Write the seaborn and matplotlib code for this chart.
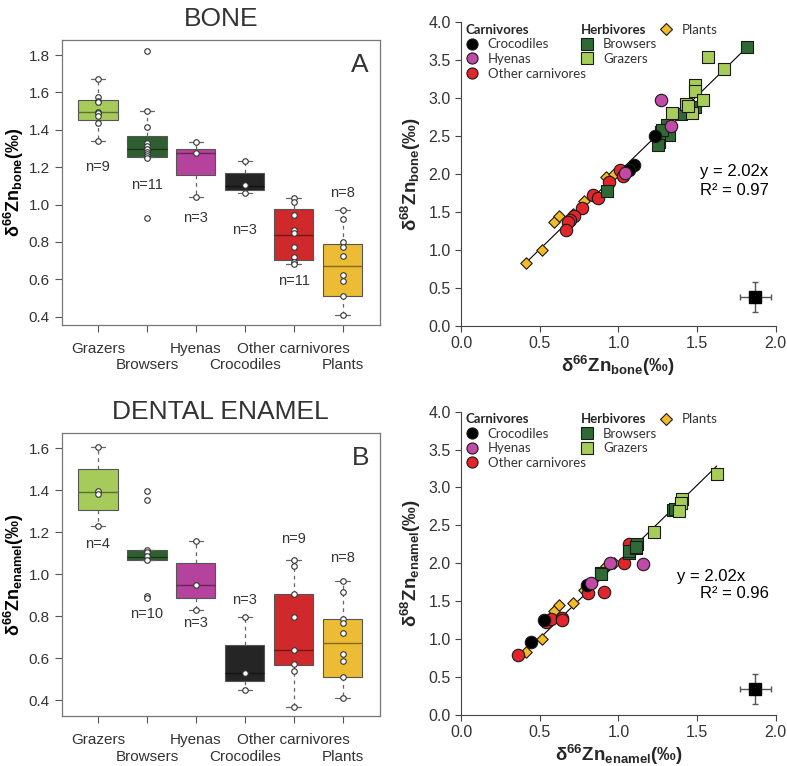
import numpy as np
import pandas as pd
import matplotlib
matplotlib.use('Agg')
import matplotlib.pyplot as plt
import seaborn as sns
from matplotlib.lines import Line2D

# ---------------- data ----------------
groups = ['Grazers', 'Browsers', 'Hyenas', 'Crocodiles', 'Other carnivores', 'Plants']
box_colors = ['#a6cb5b', '#2f5f31', '#b5429c', '#252525', '#d0292b', '#ecbd34']

# bone: box statistics
bone_q1 = [1.45, 1.256, 1.156, 1.079, 0.705, 0.511]
bone_med = [1.495, 1.30, 1.274, 1.10, 0.84, 0.671]
bone_q3 = [1.559, 1.365, 1.30, 1.167, 0.974, 0.789]
bone_wlo = [1.342, 1.252, 1.042, 1.060, 0.680, 0.412]
bone_whi = [1.672, 1.502, 1.333, 1.233, 1.033, 0.971]
bone_n = [9, 11, 3, 3, 11, 8]
bone_n_y = [1.20, 1.105, 0.93, 0.865, 0.59, 1.06]

bone_points = {
    'Grazers': [1.672, 1.577, 1.556, 1.55, 1.497, 1.49, 1.474, 1.434, 1.342],
    'Browsers': [1.823, 1.502, 1.413, 1.327, 1.313, 1.30, 1.283, 1.270, 1.258, 1.251, 0.931],
    'Hyenas': [1.333, 1.274, 1.042],
    'Crocodiles': [1.233, 1.103, 1.060],
    'Other carnivores': [1.033, 1.015, 0.942, 0.864, 0.846, 0.775, 0.721, 0.694, 0.680],
    'Plants': [0.971, 0.923, 0.798, 0.775, 0.725, 0.626, 0.593, 0.512, 0.412],
}

# enamel: box statistics
enam_q1 = [1.306, 1.066, 0.888, 0.49, 0.569, 0.509]
enam_med = [1.39, 1.083, 0.948, 0.53, 0.640, 0.672]
enam_q3 = [1.50, 1.117, 1.053, 0.664, 0.908, 0.787]
enam_wlo = [1.229, 1.066, 0.831, 0.45, 0.368, 0.411]
enam_whi = [1.605, 1.117, 1.158, 0.798, 1.066, 0.968]
enam_n = [4, 10, 3, 3, 9, 8]
enam_n_y = [1.142, 0.81, 0.77, 0.878, 1.166, 1.079]

enam_points = {
    'Grazers': [1.605, 1.395, 1.384, 1.229],
    'Browsers': [1.396, 1.355, 1.118, 1.106, 1.087, 1.066, 0.897, 0.886],
    'Hyenas': [1.158, 0.948, 0.831],
    'Crocodiles': [0.798, 0.529, 0.45],
    'Other carnivores': [1.066, 1.039, 0.908, 0.798, 0.64, 0.571, 0.539, 0.368],
    'Plants': [0.968, 0.918, 0.788, 0.769, 0.719, 0.619, 0.589, 0.509, 0.411],
}

# scatter: d66Zn (x) vs d68Zn (y), bone
bone_croc_x = [1.23, 1.10, 1.07]
bone_croc_y = [2.50, 2.12, 2.06]
bone_hyena_x = [1.27, 1.335, 1.04]
bone_hyena_y = [2.97, 2.63, 2.02]
bone_other_x = [1.01, 1.03, 0.94, 0.84, 0.87, 0.77, 0.72, 0.69, 0.68, 0.67]
bone_other_y = [2.05, 1.97, 1.90, 1.72, 1.69, 1.56, 1.45, 1.39, 1.37, 1.27]
bone_brow_x = [1.82, 1.49, 1.40, 1.31, 1.30, 1.27, 1.32, 1.26, 1.25, 0.93, 1.28]
bone_brow_y = [3.67, 2.88, 2.79, 2.65, 2.56, 2.55, 2.52, 2.43, 2.38, 1.78, 2.58]
bone_graz_x = [1.57, 1.67, 1.49, 1.49, 1.54, 1.43, 1.34, 1.47, 1.44]
bone_graz_y = [3.54, 3.39, 3.18, 3.10, 2.97, 2.92, 2.81, 2.81, 2.90]
plant_x = [0.413, 0.515, 0.591, 0.621, 0.714, 0.784, 0.922, 0.972]
plant_y = [0.834, 1.001, 1.374, 1.449, 1.471, 1.651, 1.967, 1.998]

# scatter: enamel
enam_croc_x = [0.443, 0.528, 0.799]
enam_croc_y = [0.967, 1.253, 1.714]
enam_hyena_x = [0.947, 1.159, 0.826]
enam_hyena_y = [2.009, 1.991, 1.745]
enam_other_x = [0.364, 0.538, 0.570, 0.640, 0.64, 0.805, 0.909, 1.038, 1.066]
enam_other_y = [0.791, 1.231, 1.262, 1.275, 1.25, 1.613, 1.622, 2.009, 2.255]
enam_brow_x = [0.89, 0.89, 1.07, 1.07, 1.11, 1.12, 1.11, 1.35, 1.40, 1.36]
enam_brow_y = [1.87, 1.86, 2.13, 2.16, 2.20, 2.25, 2.22, 2.70, 2.79, 2.71]
enam_graz_x = [1.625, 1.405, 1.398, 1.388, 1.227]
enam_graz_y = [3.174, 2.844, 2.791, 2.695, 2.418]

slope = 2.02
bone_r2 = 0.97
enam_r2 = 0.96
# analytical error (2 sd) marker
bone_err = (1.87, 0.38, 0.10, 0.20)
enam_err = (1.87, 0.34, 0.10, 0.20)

# ---------------- style ----------------
sns.set_style('ticks')
plt.rcParams['font.family'] = ['Liberation Sans', 'DejaVu Sans']
plt.rcParams['mathtext.fontset'] = 'custom'
plt.rcParams['mathtext.rm'] = 'Liberation Sans'
plt.rcParams['mathtext.bf'] = 'Liberation Sans:bold'
plt.rcParams['mathtext.it'] = 'Liberation Sans:italic'
text_col = '#333333'

fig = plt.figure(figsize=(7.87, 7.66), dpi=100)
ax_a = fig.add_axes([0.0784, 0.5757, 0.4045, 0.372])
ax_b = fig.add_axes([0.0784, 0.065, 0.4045, 0.370])
ax_c = fig.add_axes([0.5858, 0.5744, 0.3999, 0.3965])
ax_d = fig.add_axes([0.5858, 0.0666, 0.3999, 0.396])


def darker(c, f=0.55):
    r, g, b = matplotlib.colors.to_rgb(c)
    return (r * f, g * f, b * f)


def box_panel(ax, q1, med, q3, wlo, whi, points, n, n_y, ylim, yticks, ylab, letter, title):
    stats = []
    for i, g in enumerate(groups):
        stats.append({'q1': q1[i], 'med': med[i], 'q3': q3[i],
                      'whislo': wlo[i], 'whishi': whi[i], 'fliers': [], 'label': g})
    bp = ax.bxp(stats, positions=range(len(groups)), widths=0.8, patch_artist=True,
                boxprops=dict(edgecolor='#555555', linewidth=0.8),
                whiskerprops=dict(color='#666666', linestyle=(0, (3, 3)), linewidth=0.9),
                capprops=dict(color='#666666', linewidth=0.9),
                medianprops=dict(linewidth=1.0),
                capwidths=0.3)
    for patch, mline, c in zip(bp['boxes'], bp['medians'], box_colors):
        patch.set_facecolor(c)
        mline.set_color(darker(c))

    df = pd.DataFrame([(g, v) for g in groups for v in points[g]], columns=['group', 'value'])
    sns.stripplot(data=df, x='group', y='value', order=groups, jitter=False, color='white',
                  edgecolor='#333333', linewidth=0.8, size=4, ax=ax)

    for i in range(len(groups)):
        ax.text(i, n_y[i], f'n={n[i]}', ha='center', va='center', fontsize=10.5, color=text_col)

    ax.set_xlim(-0.74, 5.76)
    ax.set_ylim(*ylim)
    ax.set_yticks(yticks)
    ax.set_yticklabels([f'{t:.1f}' for t in yticks], fontsize=11, color=text_col)
    # staggered category labels: first row on major ticks, second row on minor ticks
    ax.set_xticks([0, 2, 4])
    ax.set_xticklabels([groups[0], groups[2], groups[4]], fontsize=11, color=text_col)
    ax.set_xticks([1, 3, 5], minor=True)
    ax.set_xticklabels([groups[1], groups[3], groups[5]], minor=True, fontsize=11, color=text_col)
    ax.tick_params(axis='both', which='both', length=5, color='#555555', width=0.8)
    ax.tick_params(axis='x', which='major', pad=7)
    ax.tick_params(axis='x', which='minor', pad=19)
    ax.set_xlabel('')
    ax.set_ylabel(ylab, fontsize=13, color='black', labelpad=2)
    for s in ax.spines.values():
        s.set_visible(True)
        s.set_color('#777777')
        s.set_linewidth(0.9)
    ax.text(0.965, 0.955, letter, transform=ax.transAxes, ha='right', va='top',
            fontsize=19, color=text_col)
    ax.set_title(title, fontsize=19, color=text_col, pad=10)


box_panel(ax_a, bone_q1, bone_med, bone_q3, bone_wlo, bone_whi, bone_points, bone_n, bone_n_y,
          (0.356, 1.88), [0.4, 0.6, 0.8, 1.0, 1.2, 1.4, 1.6, 1.8],
          r'$\mathbf{δ^{66}Zn_{bone}(‰)}$', 'A', 'BONE')
box_panel(ax_b, enam_q1, enam_med, enam_q3, enam_wlo, enam_whi, enam_points, enam_n, enam_n_y,
          (0.324, 1.674), [0.4, 0.6, 0.8, 1.0, 1.2, 1.4, 1.6],
          r'$\mathbf{δ^{66}Zn_{enamel}(‰)}$', 'B', 'DENTAL ENAMEL')

sc_colors = {'Crocodiles': '#000000', 'Hyenas': '#c04aa6', 'Other carnivores': '#e0262a',
             'Browsers': '#2f6a35', 'Grazers': '#a7cd58', 'Plants': '#f3bb27'}
sc_markers = {'Crocodiles': 'o', 'Hyenas': 'o', 'Other carnivores': 'o',
              'Browsers': 's', 'Grazers': 's', 'Plants': 'D'}
sc_sizes = {'o': 80, 's': 72, 'D': 34}


def scatter_panel(ax, series, r2, err, eq_pos, xlab, ylab):
    for name, (xs, ys) in series.items():
        m = sc_markers[name]
        sns.scatterplot(x=xs, y=ys, color=sc_colors[name], marker=m, s=sc_sizes[m],
                        edgecolor='#1a1a1a', linewidth=0.8, ax=ax, zorder=3)
    allx = np.concatenate([np.array(v[0]) for v in series.values()])
    xl = np.array([allx.min(), allx.max()])
    sns.lineplot(x=xl, y=slope * xl, color='black', linewidth=0.8, ax=ax, zorder=2)

    ex, ey, exe, eye = err
    ax.errorbar(ex, ey, xerr=exe, yerr=eye, fmt='s', color='black', markersize=8,
                ecolor='#555555', elinewidth=1, capsize=2.5, capthick=1)

    ax.text(eq_pos[0][0], eq_pos[0][1], f'y = {slope:.2f}x', fontsize=12, color='black',
            va='center')
    ax.text(eq_pos[1][0], eq_pos[1][1], f'R² = {r2:.2f}', fontsize=12, color='black',
            va='center')

    ax.set_xlim(0, 2)
    ax.set_ylim(0, 4)
    ax.set_xticks([0, 0.5, 1.0, 1.5, 2.0])
    ax.set_xticklabels(['0.0', '0.5', '1.0', '1.5', '2.0'], fontsize=11.5, color=text_col)
    ax.set_yticks(np.arange(0, 4.01, 0.5))
    ax.set_yticklabels([f'{t:.1f}' for t in np.arange(0, 4.01, 0.5)], fontsize=11.5,
                       color=text_col)
    ax.tick_params(axis='both', length=4, color='#444444', width=0.8)
    sns.despine(ax=ax)
    for s in ['left', 'bottom']:
        ax.spines[s].set_color('#444444')
        ax.spines[s].set_linewidth(0.8)
    ax.set_xlabel(xlab, fontsize=13.5, labelpad=2)
    ax.set_ylabel(ylab, fontsize=13.5, labelpad=4)

    def handle(name):
        m = sc_markers[name]
        return Line2D([], [], linestyle='', marker=m, markersize=8 if m != 'D' else 6,
                      markerfacecolor=sc_colors[name], markeredgecolor='#1a1a1a',
                      markeredgewidth=0.8, label=name)

    leg_font = {'family': 'Lato', 'size': 9.5}
    title_font = {'family': 'Lato', 'size': 9.5, 'weight': 'bold'}
    common = dict(loc='upper left', frameon=False, borderpad=0, borderaxespad=0,
                  handlelength=1.0, handletextpad=0.7, labelspacing=0.2, prop=leg_font,
                  title_fontproperties=title_font, alignment='left', labelcolor=text_col)
    l1 = ax.legend(handles=[handle(n) for n in ['Crocodiles', 'Hyenas', 'Other carnivores']],
                   title='Carnivores', bbox_to_anchor=(0.013, 0.995), **common)
    ax.add_artist(l1)
    l2 = ax.legend(handles=[handle(n) for n in ['Browsers', 'Grazers']],
                   title='Herbivores', bbox_to_anchor=(0.38, 0.995), **common)
    ax.add_artist(l2)
    ax.legend(handles=[handle('Plants')], bbox_to_anchor=(0.63, 0.995), **common)


scatter_panel(ax_c, {'Plants': (plant_x, plant_y),
                     'Other carnivores': (bone_other_x, bone_other_y),
                     'Browsers': (bone_brow_x, bone_brow_y),
                     'Grazers': (bone_graz_x, bone_graz_y),
                     'Crocodiles': (bone_croc_x, bone_croc_y),
                     'Hyenas': (bone_hyena_x, bone_hyena_y)},
              bone_r2, bone_err, [(1.52, 2.03), (1.52, 1.79)],
              r'$\mathbf{δ^{66}Zn_{bone}(‰)}$', r'$\mathbf{δ^{68}Zn_{bone}(‰)}$')
scatter_panel(ax_d, {'Plants': (plant_x, plant_y),
                     'Other carnivores': (enam_other_x, enam_other_y),
                     'Browsers': (enam_brow_x, enam_brow_y),
                     'Grazers': (enam_graz_x, enam_graz_y),
                     'Crocodiles': (enam_croc_x, enam_croc_y),
                     'Hyenas': (enam_hyena_x, enam_hyena_y)},
              enam_r2, enam_err, [(1.37, 1.83), (1.52, 1.60)],
              r'$\mathbf{δ^{66}Zn_{enamel}(‰)}$', r'$\mathbf{δ^{68}Zn_{enamel}(‰)}$')

fig.savefig('out.png', dpi=100)
